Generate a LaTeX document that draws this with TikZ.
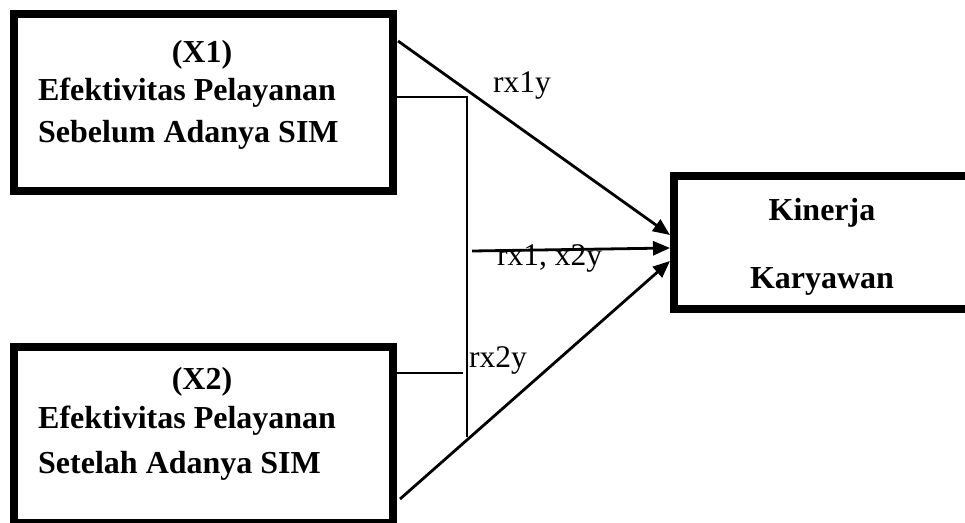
\documentclass[tikz,border=0pt]{standalone}
\usepackage{fontspec}
\setmainfont{Liberation Serif}
\usetikzlibrary{arrows.meta}
\begin{document}
\begin{tikzpicture}[x=1pt,y=-1pt,
  box/.style={draw, line width=8pt, rectangle, inner sep=0pt},
  lbl/.style={font=\fontsize{32}{40}\selectfont\bfseries, inner sep=0pt},
  rlbl/.style={font=\fontsize{31.5}{40}\selectfont, inner sep=0pt},
  thin/.style={line width=1.6pt},
  arr/.style={line width=2.8pt, -{Triangle[length=17pt,width=14pt]}}]
\useasboundingbox (0,0) rectangle (965,522);
% boxes
\node[box, minimum width=378.5pt, minimum height=177pt] (x1) at (203.25,102.5) {};
\node[box, minimum width=378.5pt, minimum height=176pt] (x2) at (203.25,435) {};
\node[box, minimum width=301pt, minimum height=133pt] (ky) at (824.5,242.5) {};
% box texts
\node[lbl, anchor=base] (x1a) at (202,62) {(X1)};
\node[lbl, anchor=base west] (x1b) at (38,100) {Efektivitas Pelayanan};
\node[lbl, anchor=base west] (x1c) at (38,142) {Sebelum Adanya SIM};
\node[lbl, anchor=base] (x2a) at (202,389) {(X2)};
\node[lbl, anchor=base west] (x2b) at (38,428) {Efektivitas Pelayanan};
\node[lbl, anchor=base west] (x2c) at (38,473) {Setelah Adanya SIM};
\node[lbl, anchor=base] (kya) at (822,220) {Kinerja};
\node[lbl, anchor=base] (kyb) at (822,288) {Karyawan};
% path labels
\node[rlbl, anchor=base west] (l1) at (493,92) {rx1y};
\node[rlbl, anchor=base west] (l2) at (497,265) {rx1, x2y};
\node[rlbl, anchor=base west] (l3) at (469,367) {rx2y};
% correlation bracket
\coordinate (v1) at (467,97);
\coordinate (v2) at (467,437);
\coordinate (h2) at (463,373);
\draw[thin] (x1.east |- v1) -- (v1) -- (v2);
\draw[thin] (x2.east |- h2) -- (h2);
% arrows
\coordinate (s1) at (398,41);
\coordinate (s2) at (472,251);
\coordinate (s3) at (400,499);
\draw[arr] (s1) -- (ky.west |- 0,235);
\draw[arr] (s2) -- (ky.west |- 0,248);
\draw[arr] (s3) -- (ky.west |- 0,261);
\end{tikzpicture}
\end{document}
